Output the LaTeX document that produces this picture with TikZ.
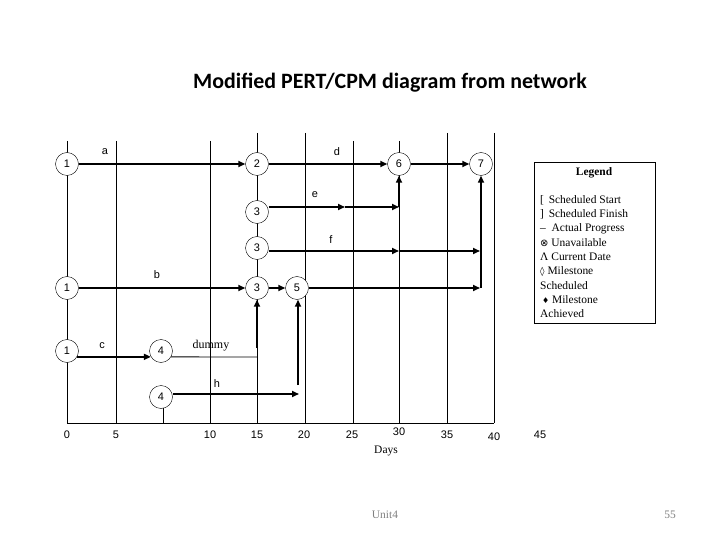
\documentclass[tikz,border=0pt]{standalone}
\usepackage{fontspec}
\setmainfont{Liberation Serif}
\setsansfont{Liberation Sans}
\newfontfamily\titlefont{Carlito}
\newfontfamily\symfont{DejaVu Sans}
\usepackage{tikz}
\usetikzlibrary{positioning,arrows.meta}

\begin{document}
\begin{tikzpicture}[
    x=1bp, y=-1bp,
    event/.style={draw, circle, fill=white, inner sep=0pt, minimum size=23bp, font=\sffamily\fontsize{11}{12}\selectfont},
    lbl/.style={font=\sffamily\fontsize{11}{12}\selectfont, inner sep=0pt},
    tick/.style={font=\sffamily\fontsize{11}{12}\selectfont, inner sep=0pt},
    grid line/.style={line width=0.8bp},
    arrow/.style={-{Triangle[length=7bp,width=6bp]}, line width=1.6bp},
    thin link/.style={line width=0.8bp}
  ]
    \useasboundingbox (0,0) rectangle (720,540);

    % title
    \node[font=\titlefont\bfseries\fontsize{22}{25}\selectfont] (title) at (390,83) {Modified PERT/CPM diagram from network};

    % time grid
    \foreach \gx in {67,116,210,353,399} \draw[grid line] (\gx,141) -- (\gx,423);
    \foreach \gx in {257,305,447,494} \draw[grid line] (\gx,133) -- (\gx,423);
    \draw[grid line] (163,397) -- (163,423);
    \draw[grid line] (67,423) -- (494,423);

    % day numbers
    \node[tick] (t0) at (67,435) {0};
    \node[tick] (t5) at (116,435) {5};
    \node[tick] (t10) at (210,435) {10};
    \node[tick] (t15) at (257,435) {15};
    \node[tick] (t20) at (304,435) {20};
    \node[tick] (t25) at (352,435) {25};
    \node[tick] (t30) at (399,432) {30};
    \node[tick] (t35) at (447,435) {35};
    \node[tick] (t40) at (494,437) {40};
    \node[tick] (t45) at (540,435) {45};
    \node[font=\fontsize{11.5}{13}\selectfont] (days) at (386,451) {Days};

    % events
    \node[event] (n1a) at (67,164) {1};
    \node[event] (n2) at (257,164) {2};
    \node[event] (n6) at (399,164) {6};
    \node[event] (n7) at (481,164) {7};
    \node[event] (n3a) at (257,212) {3};
    \node[event] (n3b) at (257,248) {3};
    \node[event] (n1b) at (67,288) {1};
    \node[event] (n3c) at (257,288) {3};
    \node[event] (n5) at (297,288) {5};
    \node[event] (n1c) at (67,351) {1};
    \node[event] (n4a) at (161,351) {4};
    \node[event] (n4b) at (161,397) {4};

    % bend points
    \coordinate (em) at (345,207);
    \coordinate (ee) at (399,207);
    \coordinate (fm) at (399,251);
    \coordinate (ff) at (480,251);
    \coordinate (g5) at (480,288);
    \coordinate (g7) at (481,288);
    \coordinate (dm) at (257,357);
    \coordinate (ds) at (257,348);
    \coordinate (hh) at (299,394);
    \coordinate (hv) at (298,385);

    % activities
    \draw[arrow] (n1a) -- (n2);
    \draw[arrow] (n2) -- (n6);
    \draw[arrow] (n6) -- (n7);
    \draw[arrow] (n3a.east |- em) -- (em);
    \draw[arrow] (em) -- (ee);
    \draw[arrow] (ee) -- (n6);
    \draw[arrow] (n3b.east |- fm) -- (fm);
    \draw[arrow] (fm) -- (ff);
    \draw[arrow] (n1b) -- (n3c);
    \draw[arrow] (n3c) -- (n5);
    \draw[arrow] (n5) -- (g5);
    \draw[arrow] (g7) -- (n7);
    \draw[arrow] (n1c.-30) -- (n4a.-150);
    \draw[thin link] (n4a.-30) -- (dm);
    \draw[arrow] (ds) -- (n3c);
    \draw[arrow] (n4b.east |- hh) -- (hh);
    \draw[arrow] (hv) -- (n5.south -| hv);

    % activity names
    \node[lbl] (la) at (105,152) {a};
    \node[lbl] (ld) at (337,152) {d};
    \node[lbl] (le) at (315,195) {e};
    \node[lbl] (lf) at (331,240) {f};
    \node[lbl] (lb) at (157,275) {b};
    \node[lbl] (lc) at (102,346) {c};
    \node[lbl] (lh) at (217,384) {h};
    \node[font=\fontsize{12}{13}\selectfont, inner sep=0pt] (ldummy) at (211,346) {dummy};

    % legend
    \node[draw, line width=0.8bp, anchor=north west, minimum width=121bp, minimum height=161bp] (legend) at (534,162) {};
    \node[font=\bfseries\fontsize{11.5}{13}\selectfont] (legtitle) at (594,173) {Legend};
    \node[anchor=north west, align=left, inner sep=0pt, font=\fontsize{11.5}{14.4}\selectfont] (legtext) at (540,195) {%
      [\, Scheduled Start\\
      ]\, Scheduled Finish\\
      --\ \ Actual Progress\\
      {\symfont\fontsize{10}{10}\selectfont ⊗} Unavailable\\
      Λ Current Date\\
      {\symfont\fontsize{9}{10}\selectfont ◊} Milestone\\
      Scheduled\\
      \,{\symfont\fontsize{8}{10}\selectfont ♦} Milestone\\
      Achieved};

    % footer
    \node[text=gray, font=\fontsize{11.5}{13}\selectfont] (unit) at (385,515) {Unit4};
    \node[text=gray, font=\fontsize{11.5}{13}\selectfont] (page) at (670,515) {55};
  \end{tikzpicture}
\end{document}
